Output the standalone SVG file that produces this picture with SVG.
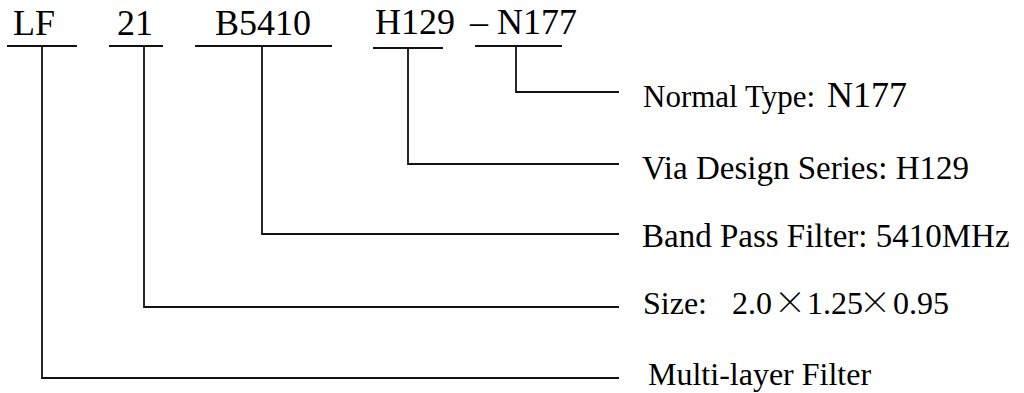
<svg xmlns="http://www.w3.org/2000/svg" width="1024" height="393" viewBox="0 0 1024 393">
  <style>
    .code { font-family: "Liberation Serif", "Times New Roman", serif; font-size: 36px; fill: #000; }
    .lbl { font-family: "Liberation Serif", "Times New Roman", serif; font-size: 32px; fill: #000; }
    .cjk { font-family: "Noto Sans CJK SC", "Liberation Serif", sans-serif; font-size: 32px; font-weight: 300; }
    .ln { fill: none; stroke: #111; stroke-width: 1.8; }
  </style>
  <rect width="1024" height="393" fill="#fff"/>

  <g id="code-LF">
    <text class="code" x="13" y="35">LF</text>
    <path class="ln" d="M7,46 H77"/>
  </g>
  <g id="code-21">
    <text class="code" x="117" y="35">21</text>
    <path class="ln" d="M109,46 H163"/>
  </g>
  <g id="code-B5410">
    <text class="code" x="215" y="35">B5410</text>
    <path class="ln" d="M195,46 H332"/>
  </g>
  <g id="code-H129">
    <text class="code" x="375" y="34">H129</text>
    <path class="ln" d="M373,48 H443"/>
  </g>
  <g id="code-dash">
    <text class="code" x="470" y="34">–</text>
  </g>
  <g id="code-N177">
    <text class="code" x="497" y="34">N177</text>
    <path class="ln" d="M475,46 H562"/>
  </g>

  <g id="connectors">
    <path class="ln" d="M516,46 V92 H619"/>
    <path class="ln" d="M408,48 V164 H619"/>
    <path class="ln" d="M262,46 V234 H619"/>
    <path class="ln" d="M144,46 V307 H619"/>
    <path class="ln" d="M42,46 V378 H619"/>
  </g>

  <g id="label-normal">
    <text class="lbl" x="643" y="107" style="font-size:31px">Normal Type: <tspan x="827" style="font-size:36px">N177</tspan></text>
  </g>
  <g id="label-via">
    <text class="lbl" x="642" y="179" style="font-size:33px">Via Design Series: H129</text>
  </g>
  <g id="label-band">
    <text class="lbl" x="642" y="247" style="font-size:33px">Band Pass Filter: 5410MHz</text>
  </g>
  <g id="label-size">
    <text class="lbl" x="643" y="314">Size:<tspan x="732">2.0</tspan><tspan class="cjk" x="774">×</tspan><tspan x="807">1.25</tspan><tspan class="cjk" x="859">×</tspan><tspan x="893">0.95</tspan></text>
  </g>
  <g id="label-multi">
    <text class="lbl" x="648" y="385">Multi-layer Filter</text>
  </g>
</svg>
